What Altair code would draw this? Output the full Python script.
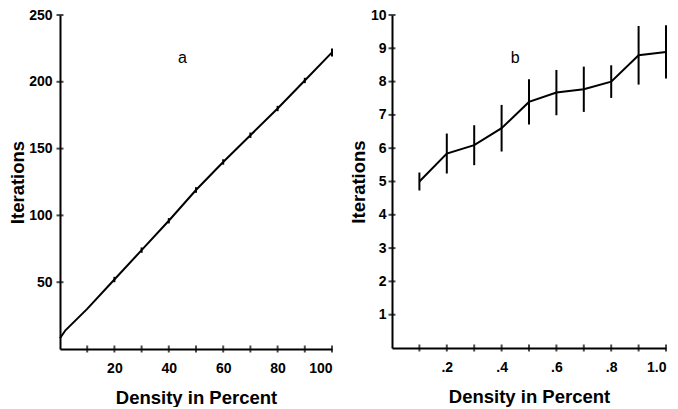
import altair as alt
import pandas as pd

# Panel a
a_density = [0, 2, 10, 20, 30, 40, 50, 60, 70, 80, 90, 100]
a_iter = [8, 14, 30, 52, 74, 96, 119, 140, 160, 180, 201, 222]
a_err = [0, 0, 0, 2, 2, 2, 2, 2, 2, 2, 2, 3]
a_xticks = [10, 20, 30, 40, 50, 60, 70, 80, 90, 100]
a_yticks = [50, 100, 150, 200, 250]
a_xlabels = [20, 40, 60, 80, 100]

# Panel b
b_density = [0.1, 0.2, 0.3, 0.4, 0.5, 0.6, 0.7, 0.8, 0.9, 1.0]
b_iter = [5.0, 5.84, 6.09, 6.6, 7.39, 7.67, 7.77, 8.0, 8.79, 8.89]
b_err = [0.27, 0.6, 0.6, 0.7, 0.68, 0.68, 0.68, 0.49, 0.88, 0.8]
b_xticks = [0.1, 0.2, 0.3, 0.4, 0.5, 0.6, 0.7, 0.8, 0.9, 1.0]
b_yticks = [1, 2, 3, 4, 5, 6, 7, 8, 9, 10]
b_xlabels = [0.2, 0.4, 0.6, 0.8, 1.0]

# annotations (panel letters), in data space
a_note = {"x": [45], "y": [218], "t": ["a"]}
b_note = {"x": [0.45], "y": [8.7], "t": ["b"]}

FONT = "Liberation Sans"


def panel(dens, iters, errs, xt, yt, xl, note, xdom, ydom, w, h, xlabexpr, ylabpad, ytitlepad):
    df = pd.DataFrame({"d": dens, "v": iters, "e": errs})
    df["lo"] = df["v"] - df["e"]
    df["hi"] = df["v"] + df["e"]
    xs = alt.Scale(domain=xdom, nice=False, zero=False)
    ys = alt.Scale(domain=ydom, nice=False, zero=False)
    xax = alt.Axis(values=xl, tickCount=20, title="Density in Percent", labelPadding=12,
                   titlePadding=13, labelExpr=xlabexpr, labelOverlap=False)
    yax = alt.Axis(values=yt, tickCount=20, format="d", title="Iterations",
                   labelPadding=ylabpad, titlePadding=ytitlepad, labelOverlap=False)
    base = alt.Chart(df)
    line = base.mark_line(color="black", strokeWidth=2).encode(
        x=alt.X("d:Q", scale=xs, axis=xax),
        y=alt.Y("v:Q", scale=ys, axis=yax),
    )
    err = base.transform_filter("datum.e > 0").mark_rule(color="black", strokeWidth=2).encode(
        x=alt.X("d:Q", scale=xs, axis=xax),
        y=alt.Y("lo:Q", scale=ys, axis=yax),
        y2="hi:Q",
    )
    xtk = alt.Chart(pd.DataFrame({"t": xt})).mark_tick(
        orient="vertical", color="black", size=7, thickness=2
    ).encode(x=alt.X("t:Q", scale=xs, axis=xax), y=alt.datum(ydom[0]))
    ytk = alt.Chart(pd.DataFrame({"t": yt})).mark_tick(
        orient="horizontal", color="black", size=7, thickness=2
    ).encode(y=alt.Y("t:Q", scale=ys, axis=yax), x=alt.datum(xdom[0]))
    txt = alt.Chart(pd.DataFrame(note)).mark_text(
        font=FONT, fontSize=16, color="black"
    ).encode(
        x=alt.X("x:Q", scale=xs, axis=xax),
        y=alt.Y("y:Q", scale=ys, axis=yax),
        text="t:N",
    )
    return alt.layer(line, err, xtk, ytk, txt).properties(width=w, height=h)


left = panel(a_density, a_iter, a_err, a_xticks, a_yticks, a_xlabels, a_note,
             [0, 100], [0, 250], 272, 334, "datum.label", 8, 1)
right = panel(b_density, b_iter, b_err, b_xticks, b_yticks, b_xlabels, b_note,
              [0, 1.0], [0, 10], 274, 333,
              "replace(format(datum.value, '.1f'), '0.', '.')", 6, 2)

chart = alt.hconcat(left, right, spacing=13).properties(
    padding={"left": 0, "top": 0, "right": 0, "bottom": 0}
).configure_view(stroke=None).configure_axis(
    grid=False, ticks=False, tickSize=0, labelOverlap=False,
    domainColor="black", domainWidth=2,
    labelFont=FONT, labelFontSize=14, labelFontWeight="bold", labelColor="black",
    titleFont=FONT, titleFontSize=18.5, titleFontWeight="bold", titleColor="black",
)

chart.save("out.html", embed_options={"renderer": "svg", "actions": False})
